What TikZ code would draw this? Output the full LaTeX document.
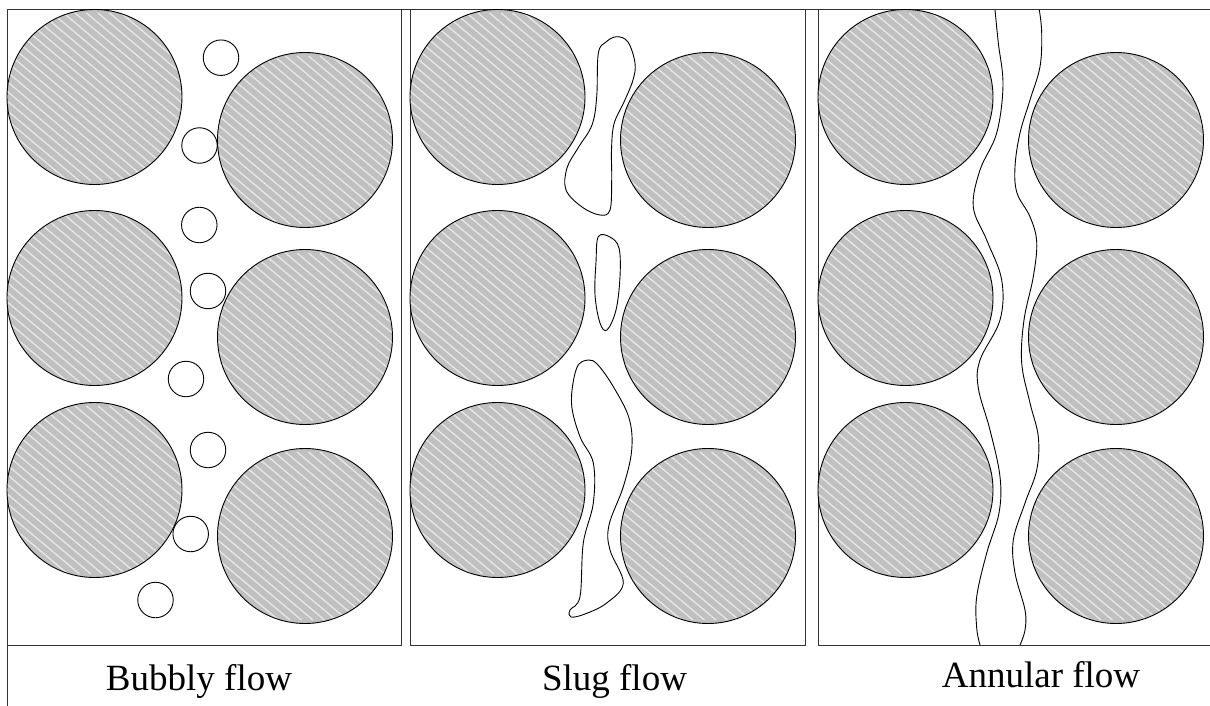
\documentclass[tikz,border=0pt]{standalone}
\usepackage{fontspec}
\setmainfont{Liberation Serif}
\definecolor{solid}{RGB}{192,192,192}
\definecolor{stripe}{RGB}{232,232,232}
\begin{document}
\begin{tikzpicture}[x=1pt,y=-1pt,
  frame/.style={draw=black!80, line width=1pt},
  disc/.style={circle, draw=black, line width=0.9pt, fill=solid,
    minimum size=175pt, inner sep=0pt,
    path picture={
      \foreach \k in {-20,...,20}
        \draw[stripe, line width=1.3pt, shift={(path picture bounding box.center)}]
          (\k*11.5pt-100pt,84pt) -- ++(200pt,-168pt);
    }},
  bubble/.style={circle, draw=black, line width=0.9pt, minimum size=35.5pt, inner sep=0pt},
  gas/.style={draw=black, line width=0.9pt},
  caption/.style={font=\fontsize{37}{40}\selectfont, anchor=base, inner sep=0pt}]
\useasboundingbox (0,0) rectangle (1210,706);

% panel frames
\draw[frame] (7,706) -- (7,10) -- (1210,10);
\draw[frame] (7,645) -- (401,645) -- (401,10);
\draw[frame] (410,10) -- (410,645) -- (805,645) -- (805,10);
\draw[frame] (818,10) -- (818,645) -- (1210,645);

% solid particles, two staggered columns per panel
\foreach \L/\p in {7/a,410/b,818/c}{
  \foreach \y/\r in {97/1,298/2,490/3}
    \node[disc] (\p l\r) at (\L+87.5,\y) {};
  \foreach \y/\r in {140/1,337/2,536/3}
    \node[disc] (\p r\r) at (\L+298,\y) {};
}

% bubbly flow: dispersed bubbles
\foreach \x/\y/\n in {221/57.7/1,199.5/145.5/2,199.3/225/3,208/291/4,186/379/5,208/450/6,190.7/534/7,155.5/600/8}
  \node[bubble] (bub\n) at (\x,\y) {};

% slug flow: elongated gas slugs
\draw[gas] plot[smooth cycle, tension=0.6] coordinates {
  (598.3,53.3) (606,42) (616.7,36.7) (628,42) (635,63) (633,80) (624,102)
  (614,124) (611.5,150) (611.7,180) (610,210) (600,215) (582,207)
  (566,190) (567,168) (578,148) (592,125) (596.7,96.7)};
\draw[gas] plot[smooth cycle, tension=0.6] coordinates {
  (598.3,236.7) (610,237) (619,248) (620,276.7) (616,310) (607,330)
  (600,323) (595,295) (596,262)};
\draw[gas] plot[smooth cycle, tension=0.6] coordinates {
  (588.3,360) (576.7,368) (571.5,403) (580,436.7) (593.3,463) (593.3,503)
  (583.3,543) (580,596.7) (570,610) (571,617) (585,614) (606.7,603)
  (623.3,583) (610,550) (609,525) (623.3,486.7) (631.7,450) (629,418)
  (613.3,386.7) (598,365)};

% annular flow: wavy gas core
\draw[gas] plot[smooth, tension=0.6] coordinates {
  (995,10) (998.3,43) (1003,85) (996.7,133) (980,170) (973.3,207)
  (986.7,240) (1001.7,280) (1000,320) (980,360) (978.3,388) (990,430)
  (1000,476.7) (999,513) (986.7,553) (976.7,596.7) (976.7,628) (980,645)};
\draw[gas] plot[smooth, tension=0.6] coordinates {
  (1039.3,10) (1041.7,33) (1040,66.7) (1030,100) (1020,133) (1015,166.7)
  (1017,193) (1030,216.7) (1036.7,242) (1033.3,276.7) (1024,320)
  (1021.7,363) (1030,403) (1038.3,436.7) (1036.7,470) (1025,503)
  (1013.3,540) (1015,573) (1025,610) (1025,630) (1020,645)};

% captions
\node[caption] (capA) at (199,690) {Bubbly flow};
\node[caption] (capB) at (614.5,690) {Slug flow};
\node[caption] (capC) at (1041,687) {Annular flow};
\end{tikzpicture}
\end{document}
